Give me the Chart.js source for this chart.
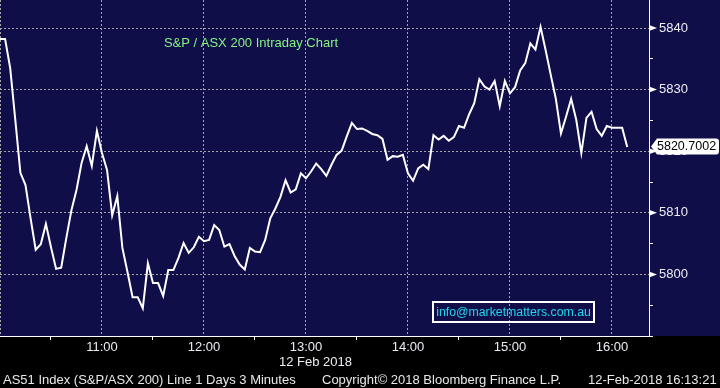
<!DOCTYPE html>
<html><head><meta charset="utf-8">
<script src="https://cdn.jsdelivr.net/npm/chart.js@4/dist/chart.umd.min.js"></script>
<style>html,body{margin:0;padding:0;background:#000;overflow:hidden}canvas{display:block}</style>
</head><body>
<canvas id="c" width="720" height="388"></canvas>
<script>
// ---- data ----
const sessionStartHour = 10;          // 10:00
const intervalMinutes = 3;            // "3 Minutes" bars
const values = [
  5838.2, 5838.2, 5833.5, 5825.1, 5816.5, 5814.5, 5809.1, 5804.0, 5804.9, 5808.2,
  5804.4, 5800.9, 5801.1, 5805.9, 5810.4, 5813.7, 5818.1, 5820.8, 5817.6, 5823.3,
  5819.7, 5816.9, 5809.6, 5812.7, 5804.3, 5800.4, 5796.3, 5796.3, 5794.5, 5801.8,
  5798.6, 5798.6, 5796.5, 5800.7, 5800.7, 5802.7, 5805.1, 5803.5, 5804.4, 5806.1,
  5805.4, 5805.6, 5808.0, 5807.2, 5804.5, 5804.9, 5803.0, 5801.6, 5800.8, 5804.3,
  5803.7, 5803.6, 5805.6, 5809.1, 5810.7, 5812.6, 5815.3, 5813.3, 5813.8, 5816.4,
  5815.6, 5816.7, 5818.0, 5817.1, 5816.0, 5817.8, 5819.4, 5820.1, 5822.4, 5824.6,
  5823.6, 5823.7, 5823.3, 5822.8, 5822.6, 5822.0, 5818.6, 5819.2, 5819.1, 5819.4,
  5816.4, 5815.2, 5817.2, 5817.8, 5817.1, 5822.6, 5821.9, 5822.5, 5821.7, 5822.3,
  5824.1, 5823.8, 5826.0, 5827.8, 5831.7, 5830.5, 5830.0, 5831.4, 5827.3, 5831.4,
  5829.4, 5830.4, 5833.1, 5834.3, 5837.5, 5836.5, 5840.2, 5836.4, 5832.4, 5828.5,
  5822.9, 5825.6, 5828.5, 5825.1, 5819.7, 5825.4, 5826.4, 5823.6, 5822.5, 5824.1,
  5823.8, 5823.8, 5823.8, 5820.7002
];
const lastPriceLabel = "5820.7002";
const yMajorTicks = [5800, 5810, 5820, 5830, 5840];
const xHourLabels = ["11:00", "12:00", "13:00", "14:00", "15:00", "16:00"];
const chartTitle = "S&P / ASX 200 Intraday Chart";
const dateLabel = "12 Feb 2018";
const watermark = "info@marketmatters.com.au";
const footerLeft = "AS51 Index (S&P/ASX 200) Line 1 Days 3 Minutes";
const footerMid = "Copyright\u00A9 2018 Bloomberg Finance L.P.";
const footerRight = "12-Feb-2018 16:13:21";

// ---- build ----
const minutes = values.map((v, i) => i * intervalMinutes);
const points = values.map((v, i) => ({ x: minutes[i], y: v }));
const NAVY = '#100e48';
const GRID = '#a4a4a4';
const FONT = "'Liberation Sans', Arial, sans-serif";

function fmtTime(m) {
  const h = sessionStartHour + Math.floor(m / 60);
  const mm = m % 60;
  return h + ':' + (mm < 10 ? '0' : '') + mm;
}

const deco = {
  id: 'deco',
  beforeDraw(chart) {
    const { ctx, chartArea } = chart;
    ctx.save();
    ctx.fillStyle = '#000';
    ctx.fillRect(0, 0, chart.width, chart.height);
    ctx.fillStyle = NAVY;
    ctx.fillRect(0, 0, chart.width, chartArea.bottom);
    ctx.restore();
  },
  afterDraw(chart) {
    const { ctx, chartArea } = chart;
    const ys = chart.scales.y;
    ctx.save();
    // triangles at major y ticks
    ctx.fillStyle = '#ffffff';
    yMajorTicks.forEach(v => {
      const y = ys.getPixelForValue(v);
      ctx.beginPath();
      ctx.moveTo(chartArea.right, y - 3);
      ctx.lineTo(chartArea.right + 8, y);
      ctx.lineTo(chartArea.right, y + 3);
      ctx.closePath();
      ctx.fill();
    });
    // last price label
    const lv = values[values.length - 1];
    const ly = ys.getPixelForValue(lv) - 0.5;
    const tipX = chartArea.right + 2;
    const r = 3;
    ctx.beginPath();
    ctx.moveTo(tipX, ly);
    ctx.lineTo(tipX + 6, ly - 8);
    ctx.lineTo(719 - r, ly - 8);
    ctx.quadraticCurveTo(719, ly - 8, 719, ly - 8 + r);
    ctx.lineTo(719, ly + 8 - r);
    ctx.quadraticCurveTo(719, ly + 8, 719 - r, ly + 8);
    ctx.lineTo(tipX + 6, ly + 8);
    ctx.closePath();
    ctx.fillStyle = '#ffffff';
    ctx.fill();
    ctx.fillStyle = '#000000';
    ctx.font = '12.5px ' + FONT;
    ctx.textBaseline = 'middle';
    ctx.textAlign = 'left';
    ctx.fillText(lastPriceLabel, tipX + 6, ly + 0.5);
    // title
    ctx.font = '13px ' + FONT;
    ctx.fillStyle = '#84f384';
    ctx.textAlign = 'center';
    ctx.fillText(chartTitle, 251, 43);
    // watermark box
    ctx.strokeStyle = '#ffffff';
    ctx.lineWidth = 2;
    ctx.strokeRect(433, 302, 161, 20);
    ctx.font = '12.3px ' + FONT;
    ctx.fillStyle = '#22d6ee';
    ctx.fillText(watermark, 513.5, 312.5);
    // date label under axis
    ctx.font = '13px ' + FONT;
    ctx.fillStyle = '#ececf4';
    ctx.fillText(dateLabel, 315.5, 362);
    // footer
    ctx.textAlign = 'left';
    ctx.fillStyle = '#e8e8e8';
    ctx.fillText(footerLeft, 3, 380);
    ctx.fillText(footerMid, 322, 380);
    ctx.fillText(footerRight, 588, 380);
    ctx.restore();
  }
};

new Chart(document.getElementById('c'), {
  type: 'line',
  data: {
    datasets: [{
      data: points,
      borderColor: '#ffffff',
      borderWidth: 2,
      pointRadius: 0,
      tension: 0,
      fill: false
    }]
  },
  options: {
    responsive: false,
    animation: false,
    devicePixelRatio: 1,
    events: [],
    layout: { padding: 0, autoPadding: false },
    plugins: { legend: { display: false }, tooltip: { enabled: false } },
    scales: {
      x: {
        type: 'linear',
        min: 0,
        max: 381.8,
        afterFit(s) { s.height = 52; s.paddingLeft = 0; s.paddingRight = 0; },
        ticks: {
          stepSize: 30,
          includeBounds: false,
          autoSkip: false,
          maxRotation: 0,
          padding: 0,
          color: '#ececf4',
          font: { family: FONT, size: 13 },
          callback(v) {
            const lbl = fmtTime(v);
            return (v % 60 === 0 && xHourLabels.includes(lbl)) ? lbl : '';
          }
        },
        grid: {
          drawTicks: true,
          tickLength: 4,
          lineWidth: 1,
          color(c) { return (c.tick && c.tick.value % 60 === 0) ? GRID : 'transparent'; },
          tickColor(c) { return (c.tick && c.tick.value % 60 !== 0) ? '#ffffff' : 'transparent'; }
        },
        border: { display: true, color: '#ffffff', width: 1, dash: [2, 2] }
      },
      y: {
        position: 'right',
        min: 5790,
        max: 5844.55,
        afterFit(s) { s.width = 71; s.paddingTop = 0; s.paddingBottom = 0; },
        ticks: {
          stepSize: 5,
          includeBounds: false,
          autoSkip: false,
          padding: 6,
          color: '#ececf4',
          font: { family: FONT, size: 13 },
          callback(v) { return yMajorTicks.includes(v) ? String(v) : ''; }
        },
        grid: {
          drawTicks: true,
          tickLength: 4,
          lineWidth: 1,
          color(c) { return (c.tick && yMajorTicks.includes(c.tick.value)) ? GRID : 'transparent'; },
          tickColor(c) { return (c.tick && yMajorTicks.includes(c.tick.value)) ? 'transparent' : '#ffffff'; }
        },
        border: { display: true, color: '#ffffff', width: 1, dash: [2, 2] }
      }
    }
  },
  plugins: [deco]
});
</script>
</body></html>
